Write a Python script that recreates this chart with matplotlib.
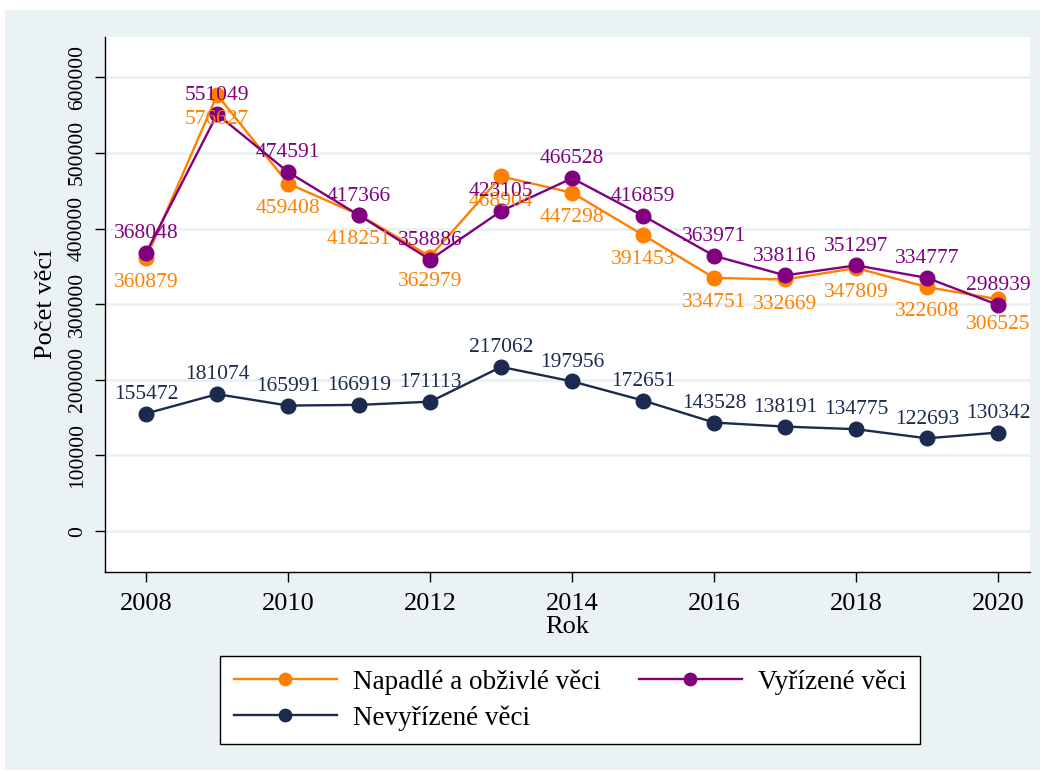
import matplotlib.pyplot as plt
from matplotlib.patches import Rectangle

plt.rcParams['font.family'] = ['Liberation Serif', 'DejaVu Serif']

# data
years = [2008, 2009, 2010, 2011, 2012, 2013, 2014, 2015, 2016, 2017, 2018, 2019, 2020]
napadle = [360879, 576627, 459408, 418251, 362979, 468904, 447298, 391453, 334751, 332669, 347809, 322608, 306525]
vyrizene = [368048, 551049, 474591, 417366, 358886, 423105, 466528, 416859, 363971, 338116, 351297, 334777, 298939]
nevyrizene = [155472, 181074, 165991, 166919, 171113, 217062, 197956, 172651, 143528, 138191, 134775, 122693, 130342]

x_ticks = [2008, 2010, 2012, 2014, 2016, 2018, 2020]
y_ticks = [0, 100000, 200000, 300000, 400000, 500000, 600000]

bg = '#EAF2F3'
c_orange = '#FF8000'
c_purple = '#800080'
c_navy = '#1C2A4F'

fig = plt.figure(figsize=(10.5, 7.74), dpi=100)
fig.patch.set_facecolor('white')
# svetle modre pozadi grafu
fig.patches.append(Rectangle((5 / 1050, 4 / 774), 1035 / 1050, 760 / 774,
                             transform=fig.transFigure, facecolor=bg, edgecolor='none', zorder=-1))

ax = fig.add_axes([0.1, 0.261, 0.881, 0.691])
ax.set_facecolor('white')

series = [
    (napadle, c_orange, 'Napadlé a obživlé věci', -11, 'top'),
    (vyrizene, c_purple, 'Vyřízené věci', 7, 'bottom'),
    (nevyrizene, c_navy, 'Nevyřízené věci', 7, 'bottom'),
]
handles = []
for vals, col, lab, dy, va in series:
    h, = ax.plot(years, vals, color=col, lw=1.7, marker='o', markersize=10.5, label=lab)
    handles.append(h)
    for xv, yv in zip(years, vals):
        ax.annotate(str(yv), (xv, yv), xytext=(0, dy), textcoords='offset points',
                    ha='center', va=va, color=col, fontsize=15.5)

ax.set_xlim(2007.42, 2020.45)
ax.set_ylim(-54000, 653000)
ax.set_xticks(x_ticks)
ax.set_yticks(y_ticks)
ax.set_yticklabels([str(v) for v in y_ticks], rotation=90, va='center')
ax.tick_params(axis='both', length=7, width=1, direction='out')
ax.tick_params(axis='x', labelsize=19, pad=8)
ax.tick_params(axis='y', labelsize=15.5, pad=6)
ax.grid(axis='y', color=bg, lw=2)
ax.set_axisbelow(True)
for s in ['top', 'right']:
    ax.spines[s].set_visible(False)
ax.spines['left'].set_linewidth(1)
ax.spines['bottom'].set_linewidth(1)

ax.set_xlabel('Rok', fontsize=19, labelpad=1)
ax.set_ylabel('Počet věcí', fontsize=19, labelpad=8)

# poradi tak, aby prvni radek byl Napadle / Vyrizene
leg = fig.legend(handles=[handles[0], handles[2], handles[1]], loc='center',
                 bbox_to_anchor=(0.543, 0.0956), ncol=2, fontsize=19.5,
                 frameon=True, fancybox=False, edgecolor='black', framealpha=1,
                 handlelength=3.8, handletextpad=0.6, columnspacing=1.4,
                 borderpad=0.5, labelspacing=0.4, markerscale=0.85)
leg.get_frame().set_linewidth(1)

fig.savefig('out.png', dpi=100, facecolor=fig.get_facecolor())
